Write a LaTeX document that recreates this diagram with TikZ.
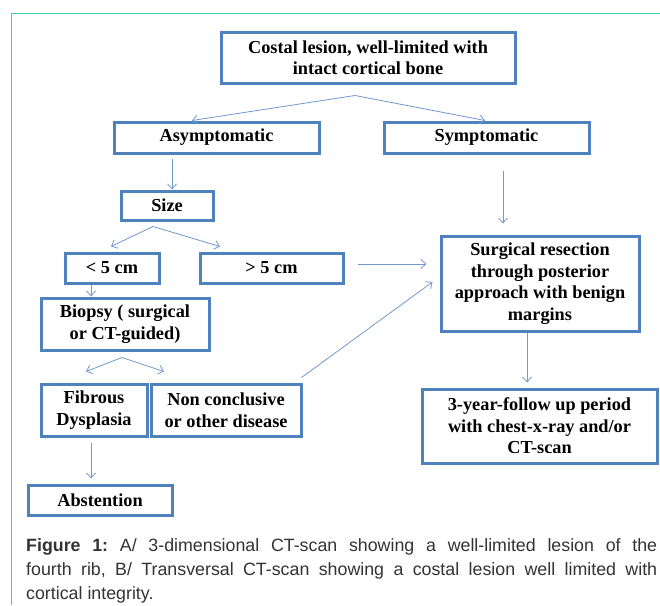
\documentclass[tikz,border=0pt]{standalone}
\usepackage{fontspec}
\setmainfont{Liberation Serif}
\newfontfamily\capfont{Liberation Sans}
\usetikzlibrary{arrows.meta,calc}
\definecolor{boxblue}{HTML}{4F81BD}
\definecolor{arrblue}{HTML}{7099D0}
\definecolor{frameteal}{HTML}{3ECFB2}
\definecolor{captext}{HTML}{333333}
\begin{document}
\frenchspacing
\begin{tikzpicture}[x=1pt,y=-1pt,
  box/.style={draw=boxblue,line width=3pt,fill=white,inner sep=0pt,align=center,
    font=\fontsize{18.3}{21.5}\selectfont\bfseries},
  arr/.style={draw=arrblue,line width=0.8pt,-{Straight Barb[length=5pt,width=9pt]}}]
\useasboundingbox[fill=white] (0,0) rectangle (660,605);
\draw[frameteal,line width=1pt] (11,605) -- (11,13) -- (660,13);

\node[box,minimum width=294pt,minimum height=51pt] (top) at (368,57.5) {Costal lesion, well-limited with\\intact cortical bone};
\node[box,minimum width=205pt,minimum height=31pt] (asym) at (216.5,137.5) {Asymptomatic};
\node[box,minimum width=205pt,minimum height=31pt] (symp) at (486.5,137.5) {Symptomatic};
\node[box,minimum width=92pt,minimum height=29pt] (size) at (167,205.5) {Size};
\node[box,minimum width=94pt,minimum height=30pt] (lt5) at (112,268) {< 5 cm};
\node[box,minimum width=143pt,minimum height=30pt] (gt5) at (271.5,268) {> 5 cm};
\node[box,minimum width=198pt,minimum height=95pt] (surg) at (540,283.5) {Surgical resection\\through posterior\\approach with benign\\margins};
\node[box,minimum width=168pt,minimum height=52pt] (biop) at (125,324) {Biopsy ( surgical\\or CT-guided)};
\node[box,minimum width=106pt,minimum height=52pt] (fib) at (94,410) {Fibrous\\Dysplasia};
\node[box,minimum width=150pt,minimum height=52pt] (noncl) at (226,410) {Non conclusive\\or other disease};
\node[box,minimum width=235pt,minimum height=74pt] (fol) at (539.5,426) {3-year-follow up period\\with chest-x-ray and/or\\CT-scan};
\node[box,minimum width=144pt,minimum height=30pt] (abst) at (100,500) {Abstention};

% connectors
\coordinate (s1) at ($(top.south)+(-13,11)$);
\draw[arr] (s1) -- ($(asym.north)+(-24.5,0)$);
\draw[arr] (s1) -- ($(symp.north)+(-1.5,0)$);
\draw[arr] ($(asym.south)+(-44.5,4)$) -- ($(size.north)+(5,0)$);
\draw[arr] ($(symp.south)+(16.5,16)$) -- ($(surg.north)+(-37,-11)$);
\coordinate (s2) at ($(size.south)+(-14,5)$);
\draw[arr] (s2) -- ($(lt5.north)+(-1,-5)$);
\draw[arr] (s2) -- ($(gt5.north)+(-51.5,-5)$);
\draw[arr] ($(gt5.east)+(13,-4)$) -- ($(surg.west)+(-13,-19.5)$);
\draw[arr] ($(lt5.south)+(-21,0)$) -- ($(biop.north)+(-34,0)$);
\coordinate (s3) at ($(biop.south)+(-3,6)$);
\draw[arr] (s3) -- ($(fib.north)+(-8,-11)$);
\draw[arr] (s3) -- ($(noncl.north)+(-62,-11)$);
\draw[arr] ($(noncl.north east)+(-1,-5)$) -- ($(surg.west)+(-7,-1.5)$);
\draw[arr] ($(surg.south)+(-13,0)$) -- ($(fol.north)+(-12.5,-5)$);
\draw[arr] ($(fib.south)+(-3,5)$) -- ($(abst.north)+(-9,-5)$);

\node[anchor=north west,inner sep=0pt,text width=631pt,align=justify,
  font=\capfont\fontsize{17.8}{24}\selectfont,text=captext] (cap) at (26,538)
  {\frenchspacing\textbf{Figure 1:} A/ 3-dimensional CT-scan showing a well-limited lesion of the\linebreak fourth rib, B/ Transversal CT-scan showing a costal lesion well limited with\linebreak cortical integrity.};
\end{tikzpicture}
\end{document}
